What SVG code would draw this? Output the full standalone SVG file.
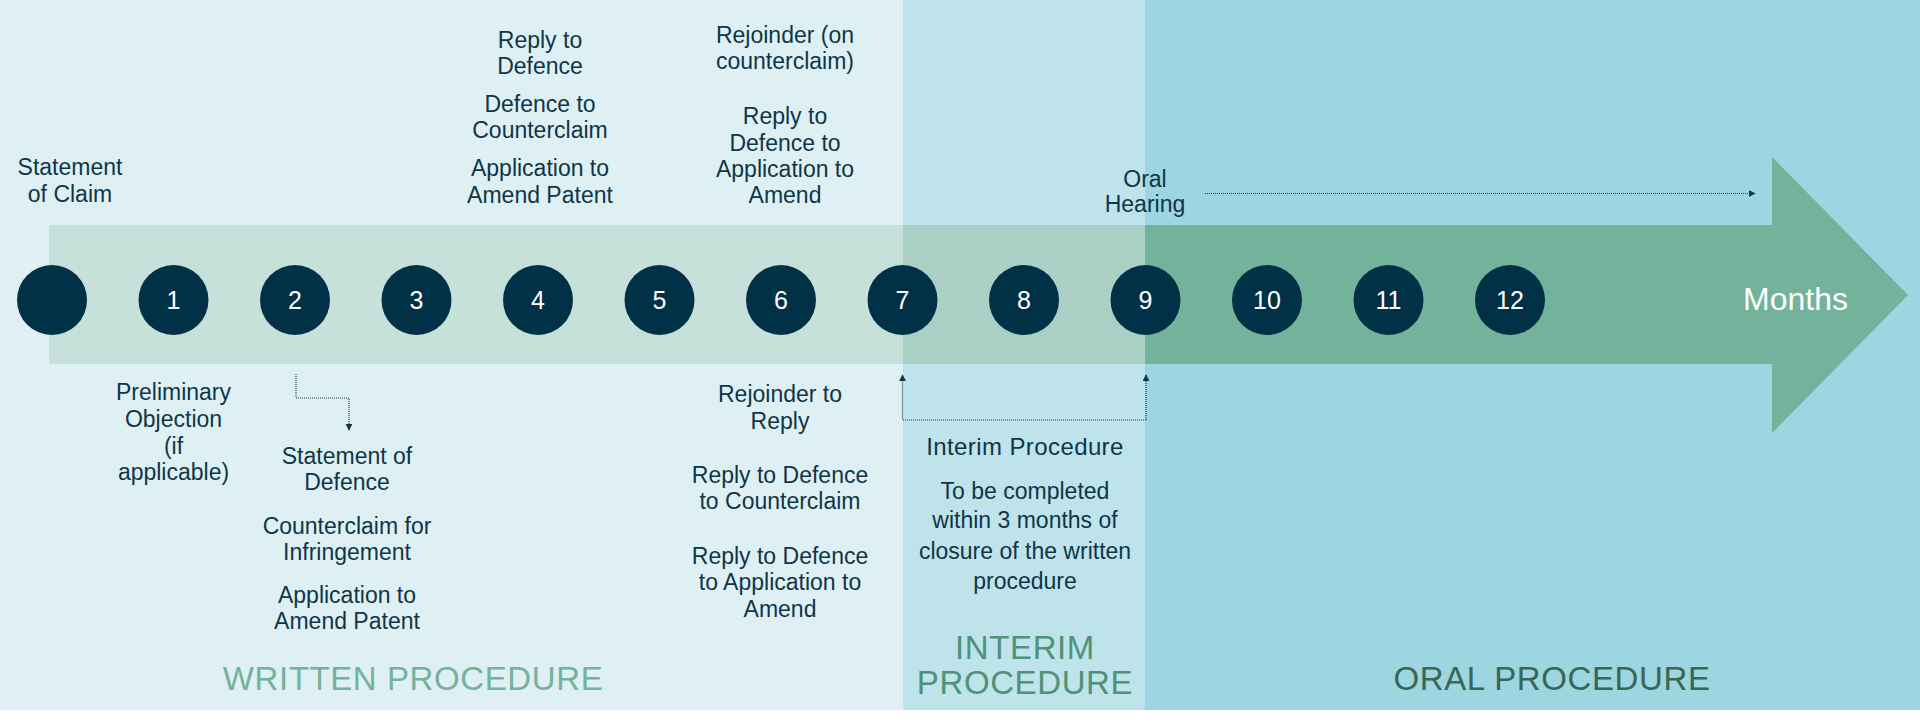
<svg xmlns="http://www.w3.org/2000/svg" width="1920" height="724" viewBox="0 0 1920 724">
<defs>
<style>
.lbl{font-family:"Liberation Sans",Arial,sans-serif;font-size:23px;fill:#0e3648;text-anchor:middle}
.num{font-family:"Liberation Sans",Arial,sans-serif;font-size:25px;fill:#ffffff;text-anchor:middle}
.dot{fill:#003147}
.con{fill:none;stroke:#1b3f50;stroke-width:1.2;stroke-dasharray:1 1}
.phase{font-family:"Liberation Sans",Arial,sans-serif;font-size:33px;text-anchor:middle;letter-spacing:0.6px}
</style>
<marker id="ah" viewBox="0 0 10 10" refX="9" refY="5" markerWidth="7" markerHeight="7" markerUnits="userSpaceOnUse" orient="auto">
<path d="M0,0 L10,5 L0,10 Z" fill="#0e3648"/>
</marker>
</defs>
<rect x="0" y="0" width="1920" height="724" fill="#ffffff"/>
<g id="panels">
<rect x="0" y="0" width="903" height="710" fill="#dff0f4"/>
<rect x="903" y="0" width="242" height="710" fill="#bee3eb"/>
<rect x="1145" y="0" width="775" height="710" fill="#9dd5e1"/>
</g>
<g id="timeline">
<rect x="49" y="225" width="854" height="139" fill="#c6e1da"/>
<rect x="903" y="225" width="242" height="139" fill="#aacfc4"/>
<polygon points="1145,225 1772,225 1772,157 1908,295 1772,433 1772,364 1145,364" fill="#74b39b"/>
<text x="1743" y="310" font-family="Liberation Sans,Arial,sans-serif" font-size="32" fill="#ffffff">Months</text>
</g>
<g id="m0"><circle class="dot" cx="52" cy="300" r="35"/></g>
<g id="m1"><circle class="dot" cx="173.5" cy="300" r="35"/><text class="num" x="173.5" y="309">1</text></g>
<g id="m2"><circle class="dot" cx="295" cy="300" r="35"/><text class="num" x="295" y="309">2</text></g>
<g id="m3"><circle class="dot" cx="416.5" cy="300" r="35"/><text class="num" x="416.5" y="309">3</text></g>
<g id="m4"><circle class="dot" cx="538" cy="300" r="35"/><text class="num" x="538" y="309">4</text></g>
<g id="m5"><circle class="dot" cx="659.5" cy="300" r="35"/><text class="num" x="659.5" y="309">5</text></g>
<g id="m6"><circle class="dot" cx="781" cy="300" r="35"/><text class="num" x="781" y="309">6</text></g>
<g id="m7"><circle class="dot" cx="902.5" cy="300" r="35"/><text class="num" x="902.5" y="309">7</text></g>
<g id="m8"><circle class="dot" cx="1024" cy="300" r="35"/><text class="num" x="1024" y="309">8</text></g>
<g id="m9"><circle class="dot" cx="1145.5" cy="300" r="35"/><text class="num" x="1145.5" y="309">9</text></g>
<g id="m10"><circle class="dot" cx="1267" cy="300" r="35"/><text class="num" x="1267" y="309">10</text></g>
<g id="m11"><circle class="dot" cx="1388.5" cy="300" r="35"/><text class="num" x="1388.5" y="309">11</text></g>
<g id="m12"><circle class="dot" cx="1510" cy="300" r="35"/><text class="num" x="1510" y="309">12</text></g>
<g id="lbl-claim"><text class="lbl"><tspan x="70" y="175">Statement</tspan><tspan x="70" y="201.7">of Claim</tspan></text></g>
<g id="lbl-m4-top"><text class="lbl"><tspan x="540" y="48.3">Reply to</tspan><tspan x="540" y="74">Defence</tspan><tspan x="540" y="111.7">Defence to</tspan><tspan x="540" y="138.3">Counterclaim</tspan><tspan x="540" y="176">Application to</tspan><tspan x="540" y="202.7">Amend Patent</tspan></text></g>
<g id="lbl-m6-top"><text class="lbl"><tspan x="785" y="43.3">Rejoinder (on</tspan><tspan x="785" y="69.3">counterclaim)</tspan><tspan x="785" y="124">Reply to</tspan><tspan x="785" y="150.7">Defence to</tspan><tspan x="785" y="176.7">Application to</tspan><tspan x="785" y="203.3">Amend</tspan></text></g>
<g id="lbl-oral"><text class="lbl"><tspan x="1145" y="186.7">Oral</tspan><tspan x="1145" y="212.3">Hearing</tspan></text></g>
<g id="lbl-prelim"><text class="lbl"><tspan x="173.5" y="400.3">Preliminary</tspan><tspan x="173.5" y="427">Objection</tspan><tspan x="173.5" y="453.7">(if</tspan><tspan x="173.5" y="480.3">applicable)</tspan></text></g>
<g id="lbl-defence"><text class="lbl"><tspan x="347" y="463.7">Statement of</tspan><tspan x="347" y="490.3">Defence</tspan><tspan x="347" y="533.7">Counterclaim for</tspan><tspan x="347" y="559.7">Infringement</tspan><tspan x="347" y="602.7">Application to</tspan><tspan x="347" y="629.3">Amend Patent</tspan></text></g>
<g id="lbl-m6-bottom"><text class="lbl"><tspan x="780" y="402">Rejoinder to</tspan><tspan x="780" y="428.7">Reply</tspan><tspan x="780" y="482.7">Reply to Defence</tspan><tspan x="780" y="508.7">to Counterclaim</tspan><tspan x="780" y="563.7">Reply to Defence</tspan><tspan x="780" y="590.3">to Application to</tspan><tspan x="780" y="617">Amend</tspan></text></g>
<g id="lbl-interim"><text class="lbl" style="font-size:24px;letter-spacing:0.4px"><tspan x="1025" y="455.3">Interim Procedure</tspan></text><text class="lbl"><tspan x="1025" y="498.7">To be completed</tspan><tspan x="1025" y="527.7">within 3 months of</tspan><tspan x="1025" y="558.7">closure of the written</tspan><tspan x="1025" y="588.7">procedure</tspan></text></g>
<g id="phase-written"><text class="phase" x="413" y="690" fill="#74b39b">WRITTEN PROCEDURE</text></g>
<g id="phase-interim"><text class="phase" fill="#4f9278"><tspan x="1025" y="658.7">INTERIM</tspan><tspan x="1025" y="693.7">PROCEDURE</tspan></text></g>
<g id="phase-oral"><text class="phase" x="1552" y="690" fill="#3b6655">ORAL PROCEDURE</text></g>
<g id="connectors">
<path class="con" d="M1205,193.5 H1755" marker-end="url(#ah)"/>
<path class="con" d="M296,374 V398 H349 V430" marker-end="url(#ah)"/>
<path class="con" d="M1146,420 H902.5 V375" marker-end="url(#ah)"/>
<path class="con" d="M1146,420 V375" marker-end="url(#ah)"/>
</g>
</svg>
